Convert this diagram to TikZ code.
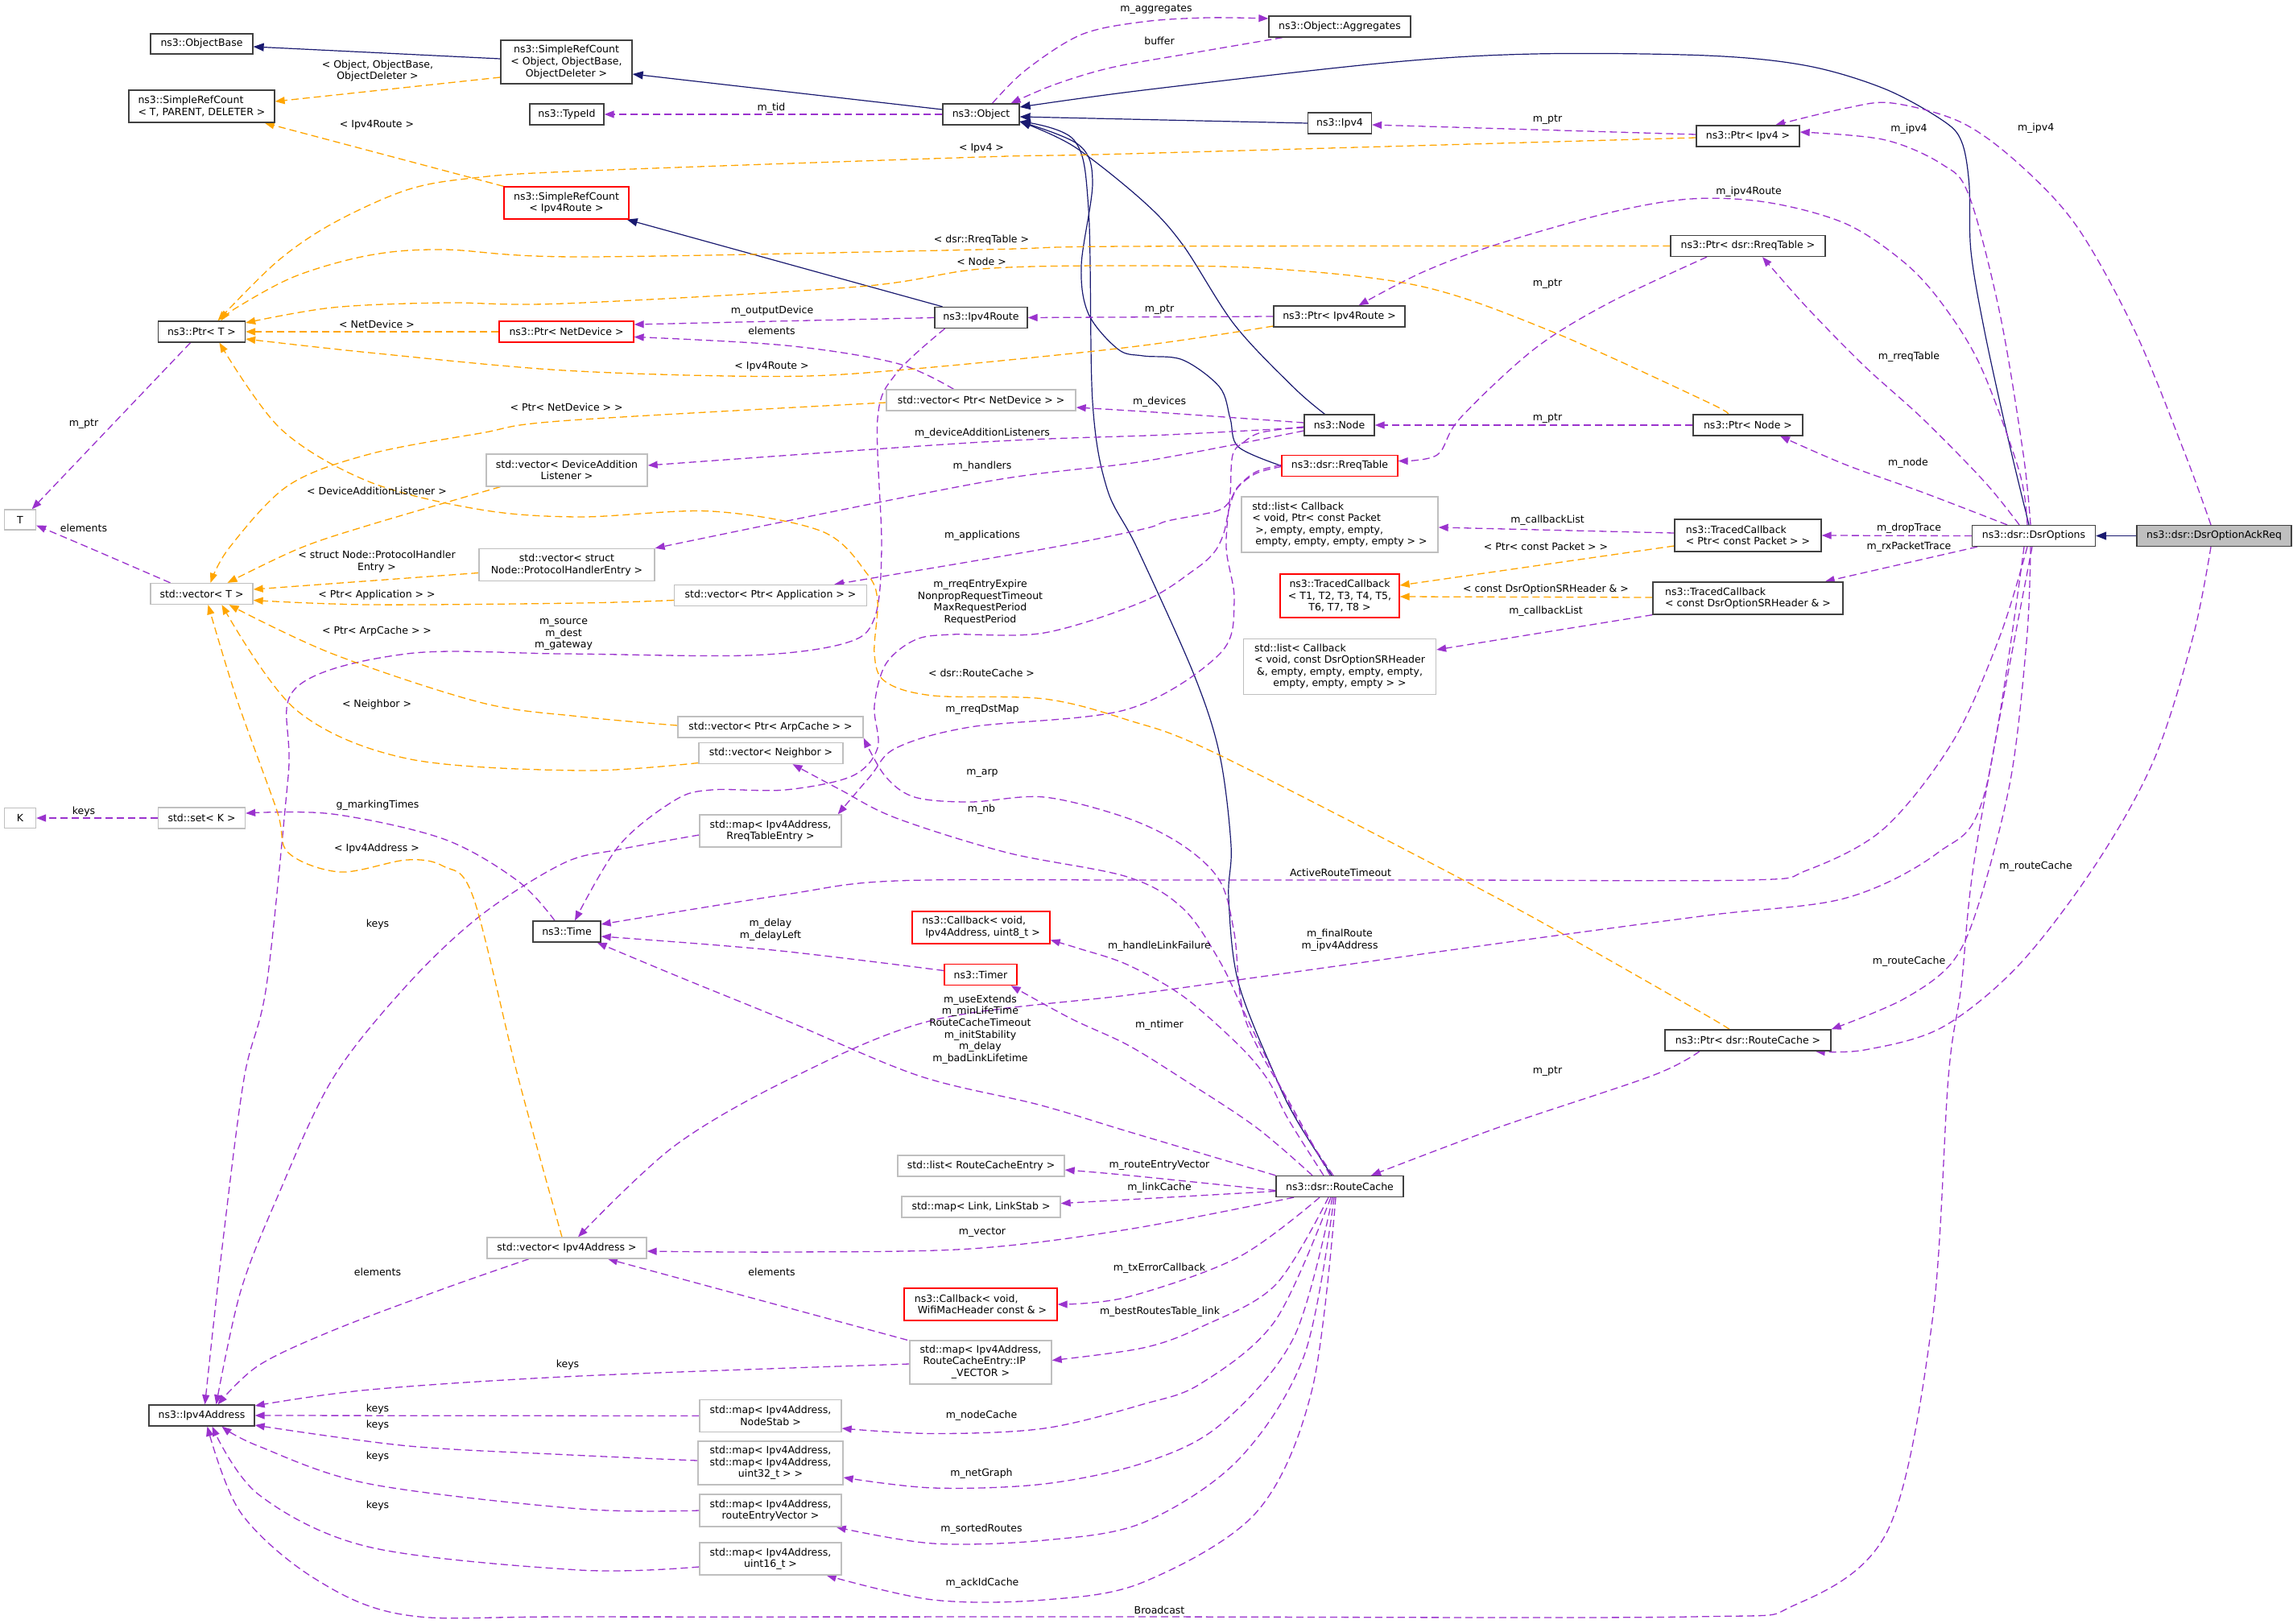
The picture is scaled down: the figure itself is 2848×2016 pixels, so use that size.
\documentclass[tikz,border=0pt]{standalone}
\usepackage{fontspec}
\setmainfont{DejaVu Sans}
\usetikzlibrary{arrows.meta}
\definecolor{usec}{HTML}{9A32CD}
\definecolor{tplc}{HTML}{FFA500}
\definecolor{inhc}{HTML}{191970}
\definecolor{grayb}{HTML}{BFBFBF}
\definecolor{blkb}{HTML}{404040}
\newcommand{\dxf}{\fontsize{12.5}{14.6}\selectfont}
\newcommand{\lsp}{\hspace*{4pt}}
\pgfdeclarelayer{bg}
\pgfsetlayers{bg,main}
\tikzset{
  box/.style={draw, line width=1.3pt, font=\dxf, inner xsep=3pt, inner ysep=1pt, align=center, fill=white},
  blk/.style={box, draw=blkb},
  gry/.style={box, draw=grayb},
  redb/.style={box, draw=red},
  cur/.style={box, draw=blkb, fill=grayb},
  lbl/.style={font=\dxf, inner sep=0pt, align=center},
  use/.style={draw=usec, line width=1.3pt, dash pattern=on 9pt off 5pt, -{Triangle[length=12pt,width=9pt]}},
  tpl/.style={draw=tplc, line width=1.3pt, dash pattern=on 9pt off 5pt, -{Triangle[length=12pt,width=9pt]}},
  inh/.style={draw=inhc, line width=1.2pt, -{Triangle[length=13pt,width=10pt]}},
  sm/.style={smooth, tension=0.55}
}
\begin{document}
\begin{tikzpicture}[x=1pt,y=-1pt]
\useasboundingbox (0,0) rectangle (2848,2016);
% ---------------- nodes ----------------
\node[blk,minimum width=127pt,minimum height=25pt] (obase) at (250.5,54.5) {ns3::ObjectBase};
\node[blk,minimum width=181pt,minimum height=40pt,align=left] (srcT) at (250.5,132) {ns3::SimpleRefCount\\< T, PARENT, DELETER >};
\node[blk,minimum width=163pt,minimum height=54pt] (srcObj) at (703.5,77) {ns3::SimpleRefCount\\< Object, ObjectBase,\\ObjectDeleter >};
\node[blk,minimum width=92pt,minimum height=26pt] (typeid) at (704,142) {ns3::TypeId};
\node[redb,minimum width=155pt,minimum height=40pt] (srcRoute) at (703.5,252) {ns3::SimpleRefCount\\< Ipv4Route >};
\node[blk,minimum width=108pt,minimum height=26pt] (ptrT) at (250.5,412) {ns3::Ptr< T >};
\node[redb,minimum width=167pt,minimum height=26pt] (ptrNet) at (703.5,412) {ns3::Ptr< NetDevice >};
\node[gry,minimum width=39pt,minimum height=25pt] (T) at (25,645.5) {T};
\node[gry,minimum width=200pt,minimum height=40pt] (vecDAL) at (704,584) {std::vector< DeviceAddition\\Listener >};
\node[blk,minimum width=95pt,minimum height=26pt] (object) at (1218.5,142) {ns3::Object};
\node[blk,minimum width=115pt,minimum height=26pt] (ipv4route) at (1218.5,394.5) {ns3::Ipv4Route};
\node[gry,minimum width=235pt,minimum height=26pt] (vecNet) at (1218.5,497) {std::vector< Ptr< NetDevice > >};
\node[blk,minimum width=176pt,minimum height=26pt] (aggr) at (1664,33) {ns3::Object::Aggregates};
\node[blk,minimum width=79pt,minimum height=26pt] (ipv4) at (1664,153) {ns3::Ipv4};
\node[blk,minimum width=163pt,minimum height=26pt] (ptrRoute) at (1663.5,393) {ns3::Ptr< Ipv4Route >};
\node[blk,minimum width=87pt,minimum height=26pt] (node) at (1663.5,528) {ns3::Node};
\node[redb,minimum width=144pt,minimum height=26pt] (rreq) at (1664,578.5) {ns3::dsr::RreqTable};
\node[gry,minimum width=244pt,minimum height=69pt,align=left] (listPkt) at (1664,651.5) {std::list< Callback\\< void, Ptr< const Packet\\\lsp>, empty, empty, empty,\\\lsp empty, empty, empty, empty > >};
\node[blk,minimum width=192pt,minimum height=26pt] (ptrRreq) at (2171,305.5) {ns3::Ptr< dsr::RreqTable >};
\node[blk,minimum width=136pt,minimum height=26pt] (ptrNode) at (2171,528) {ns3::Ptr< Node >};
\node[blk,minimum width=128pt,minimum height=26pt] (ptrIpv4) at (2171,169) {ns3::Ptr< Ipv4 >};
\node[blk,minimum width=182pt,minimum height=40pt,align=left] (tcPkt) at (2171,665) {ns3::TracedCallback\\< Ptr< const Packet > >};
\node[blk,minimum width=153pt,minimum height=26pt] (dsropt) at (2526,665.5) {ns3::dsr::DsrOptions};
\node[cur,minimum width=192pt,minimum height=26pt] (ackreq) at (2750,665.5) {ns3::dsr::DsrOptionAckReq};
\node[redb,minimum width=148pt,minimum height=54pt] (tcT) at (1664,740) {ns3::TracedCallback\\< T1, T2, T3, T4, T5,\\T6, T7, T8 >};
\node[gry,minimum width=239pt,minimum height=69pt] (listSR) at (1664,828) {\begin{tabular}{@{}l@{}}std::list< Callback\\< void, const DsrOptionSRHeader\\\multicolumn{1}{@{}c@{}}{\&, empty, empty, empty, empty,}\\\multicolumn{1}{@{}c@{}}{empty, empty, empty > >}\end{tabular}};
\node[blk,minimum width=236pt,minimum height=40pt,align=left] (tcSR) at (2171,743) {ns3::TracedCallback\\< const DsrOptionSRHeader \& >};
\node[blk,minimum width=206pt,minimum height=26pt] (ptrRC) at (2171,1292) {ns3::Ptr< dsr::RouteCache >};
\node[gry,minimum width=127pt,minimum height=26pt] (vecT) at (250.5,737.5) {std::vector< T >};
\node[gry,minimum width=218pt,minimum height=40pt] (vecPHE) at (704,701.5) {std::vector< struct\\Node::ProtocolHandlerEntry >};
\node[gry,minimum width=39pt,minimum height=25pt] (K) at (25,1016) {K};
\node[gry,minimum width=108pt,minimum height=26pt] (setK) at (250.5,1016) {std::set< K >};
\node[blk,minimum width=84pt,minimum height=26pt] (time) at (704,1157) {ns3::Time};
\node[gry,minimum width=239pt,minimum height=26pt] (vecApp) at (957,739.5) {std::vector< Ptr< Application > >};
\node[gry,minimum width=230pt,minimum height=26pt] (vecArp) at (957,903) {std::vector< Ptr< ArpCache > >};
\node[gry,minimum width=179pt,minimum height=26pt] (vecNb) at (957.5,935.5) {std::vector< Neighbor >};
\node[gry,minimum width=176pt,minimum height=40pt] (mapRreq) at (957,1032) {std::map< Ipv4Address,\\RreqTableEntry >};
\node[redb,minimum width=171pt,minimum height=40pt,align=left] (cbLink) at (1218.5,1152) {ns3::Callback< void,\\\lsp Ipv4Address, uint8\_t >};
\node[redb,minimum width=90pt,minimum height=26pt] (timer) at (1218,1210.5) {ns3::Timer};
\node[gry,minimum width=198pt,minimum height=26pt] (vecAddr) at (704,1550) {std::vector< Ipv4Address >};
\node[gry,minimum width=207pt,minimum height=26pt] (listRCE) at (1218.5,1448) {std::list< RouteCacheEntry >};
\node[gry,minimum width=197pt,minimum height=26pt] (mapLink) at (1218.5,1499) {std::map< Link, LinkStab >};
\node[redb,minimum width=190pt,minimum height=40pt,align=left] (cbWifi) at (1218,1620) {ns3::Callback< void,\\\lsp WifiMacHeader const \& >};
\node[gry,minimum width=176pt,minimum height=54pt] (mapIPV) at (1218,1692) {\begin{tabular}{@{}l@{}}std::map< Ipv4Address,\\\lsp RouteCacheEntry::IP\\\multicolumn{1}{@{}c@{}}{\_VECTOR >}\end{tabular}};
\node[gry,minimum width=176pt,minimum height=40pt] (mapNS) at (957,1758.5) {std::map< Ipv4Address,\\NodeStab >};
\node[gry,minimum width=180pt,minimum height=54pt] (mapNG) at (957,1817) {std::map< Ipv4Address,\\std::map< Ipv4Address,\\uint32\_t > >};
\node[gry,minimum width=176pt,minimum height=40pt] (mapRE) at (957,1876) {std::map< Ipv4Address,\\routeEntryVector >};
\node[gry,minimum width=176pt,minimum height=40pt] (mapAck) at (957,1936) {std::map< Ipv4Address,\\uint16\_t >};
\node[blk,minimum width=131pt,minimum height=26pt] (ipv4addr) at (250.5,1758) {ns3::Ipv4Address};
\node[blk,minimum width=158pt,minimum height=26pt] (rc) at (1664,1473.5) {ns3::dsr::RouteCache};
% ---------------- connectors ----------------
\begin{pgfonlayer}{bg}
% inheritance
\draw[inh] ([yshift=4pt]srcObj.west) -- ([yshift=-3.5pt]obase.east);
\draw[inh] ([yshift=6pt]object.west) -- ([yshift=-15pt]srcObj.east);
\draw[inh] (ipv4.west) -- ([yshift=-3pt]object.east);
\draw[inh] plot[sm] coordinates {([xshift=-6pt]dsropt.north) (2493.6,542.5) (2465,412) (2448,312.5) (2445.6,227) (2436,175) (2412,149) (2340,110) (2244,81.6) (2120,69) (1905,67) (1721,78) (1420,112) ([yshift=9pt]object.east)};
\draw[inh] ([xshift=-48pt]ipv4route.north) -- ([xshift=-3pt]srcRoute.south east);
\draw[inh] plot[sm] coordinates {([xshift=-18pt]node.north) (1606.6,481) (1533,403) (1469,304) (1420,250) (1334,182) ([yshift=-9pt]object.east)};
\draw[inh] plot[sm] coordinates {(rreq.west) (1538,555) (1528,520) (1515,481) (1469,447) (1420,442) (1389,434) (1352,390) (1343,330) (1357,226) (1340,180) ([yshift=-9pt]object.east)};
\draw[inh] plot[sm] coordinates {([xshift=-10pt]rc.north) (1611,1392) (1584,1337) (1538,1220) (1526,1115) (1529,1050) (1515,938) (1483,838) (1412,680) (1375,607) (1357,499) (1352,260) (1334,174) ([yshift=-9pt]object.east)};
\draw[inh] (ackreq.west) -- (dsropt.east);
% usage
\draw[use] (object.west) -- (typeid.east);
\draw[use] plot[sm] coordinates {([xshift=14pt]object.north) (1274,87) (1343,43) (1420,27) (1500,22) ([yshift=10pt]aggr.west)};
\draw[use] plot[sm] coordinates {([xshift=-71pt]aggr.south) (1480,66) (1380,84) (1310,105) ([xshift=37pt]object.north)};
\draw[use] ([yshift=2pt]ptrIpv4.west) -- ([yshift=-2pt]ipv4.east);
\draw[use] plot[sm] coordinates {([xshift=-4pt]dsropt.north) (2513,564) (2484,390) (2445.6,243) (2412,204) (2340,173.5) ([yshift=5pt]ptrIpv4.east)};
\draw[use] plot[sm] coordinates {([xshift=-4pt]ackreq.north) (2714,564) (2652,412) (2580,282) (2508,204) (2436,152) (2350,128) (2292,134.5) ([xshift=34pt]ptrIpv4.north)};
\draw[use] plot[sm] coordinates {([xshift=-8pt]dsropt.north) (2508,585.5) (2460,455) (2412,377) (2364,325) (2292,277.6) (2196,251.5) (2100,247) (1997,264.6) (1859,303.6) (1767,338) ([xshift=24pt]ptrRoute.north)};
\draw[use] plot[sm] coordinates {([xshift=-18pt]dsropt.north) (2465,598.5) (2388,520) (2316,455) (2244,381.6) ([xshift=18pt]ptrRreq.south)};
\draw[use] plot[sm] coordinates {([xshift=-33pt]dsropt.north) (2388,611.5) (2292,577) ([xshift=40pt]ptrNode.south)};
\draw[use] (dsropt.west) -- (tcPkt.east);
\draw[use] ([xshift=7pt]dsropt.south west) -- ([xshift=-23pt]tcSR.north east);
\draw[use] plot[sm] coordinates {([xshift=-4pt]dsropt.south) (2517.6,790) (2498,963.6) (2460,1115) (2426,1193.5) (2364,1241) (ptrRC.north east)};
\draw[use] plot[sm] coordinates {([xshift=-4pt]ackreq.south) (2724,790) (2676,942) (2604,1072) (2508,1198) (2412,1276) (2316,1304) ([xshift=-20pt]ptrRC.south east)};
\draw[use] plot[sm] coordinates {([xshift=-8pt]dsropt.south) (2484,790) (2426,920) (2340,1029) (2244,1081) (2172,1093) (1800,1093) (1420,1093) (1113,1094) (975.5,1111) ([yshift=9pt]time.east)};
\draw[use] plot[sm] coordinates {([xshift=-12pt]dsropt.south) (2465,985) (2407,1059) (2292,1115.5) (2120,1137) (1859,1172) (1538,1217) (1400,1236) (1159,1267) (985,1338) (838,1423) ([xshift=14pt]vecAddr.north)};
\draw[use] plot[sm] coordinates {([xshift=-2pt]dsropt.south) (2455,1050) (2436,1224) (2420,1337) (2400,1640) (2345,1900) (2230,1993) (2100,2008) (1400,2008) (720,2008) (505,2006) (390,1960) (298.5,1878) ([xshift=7pt]ipv4addr.south)};
\draw[use] (ipv4route.west) -- ([yshift=9pt]ptrNet.east);
\draw[use] plot[sm] coordinates {([xshift=-45pt]ipv4route.south) (1113,464) (1090,520) (1095,680) (1086,768) (1049,799) (930,814) (700,812) (505,812) (367,855) (358,964) (331,1224) (303,1340) (275.5,1553) ([xshift=4pt]ipv4addr.north)};
\draw[use] (ptrRoute.west) -- (ipv4route.east);
\draw[use] (ptrNode.west) -- (node.east);
\draw[use] plot[sm] coordinates {([xshift=-51pt]ptrRreq.south) (1997,377) (1905,434) (1813,520) (1785,565) ([yshift=6pt]rreq.east)};
\draw[use] plot[sm] coordinates {([xshift=-60pt]ptrRC.south) (2052,1336) (1859,1401) ([xshift=39pt]rc.north)};
\draw[use] plot[sm] coordinates {([yshift=3pt]node.west) (1450,513) ([yshift=-9pt]vecNet.east)};
\draw[use] plot[sm] coordinates {([yshift=-3pt]node.west) (1450,540) (1220,549) ([yshift=6pt]vecDAL.east)};
\draw[use] plot[sm] coordinates {([yshift=-7pt]node.west) (1420,573) (1220,599) (vecPHE.north east)};
\draw[use] plot[sm] coordinates {([yshift=1pt]rreq.west) (1560,586) (1537,605) (1527,623) (1510,635) (1450,647) (1420,657) (1297,681.7) ([xshift=-41pt]vecApp.north east)};
\draw[use] plot[sm] coordinates {([yshift=-1pt]rreq.west) (1560,588) (1537,606) (1527,630) (1520,662) (1508,686) (1483,708) (1420,747) (1297,786) (1182,788) (1136,795) (1100,825) (1086,877) (1090,929) (1058,964) (975.5,981) (884,981) (838,994) (769,1050) ([xshift=10pt]time.north)};
\draw[use] plot[sm] coordinates {([yshift=-2pt]node.west) (1567,537) (1545,549) (1531,565) (1528,613) (1523,680) (1533,747) (1515,812) (1400,881) (1205,903) (1113,929) (1081,964) ([xshift=-5pt]mapRreq.north east)};
\draw[use] ([yshift=3pt]tcPkt.west) -- ([yshift=-3.5pt]listPkt.east);
\draw[use] ([xshift=0pt]tcSR.south west) -- ([yshift=21pt]listSR.east);
\draw[use] ([xshift=-14pt]ptrT.south) -- ([xshift=-5.5pt]T.north east);
\draw[use] plot[sm] coordinates {([xshift=-39pt]vecT.north) (110,680) ([yshift=-7pt]T.east)};
\draw[use] (setK.west) -- (K.east);
\draw[use] plot[sm] coordinates {([xshift=-34pt]vecNet.north) (1113,451) (975.5,429) ([yshift=-6.5pt]ptrNet.east)};
\draw[use] plot[sm] coordinates {([xshift=-15pt]time.north) (643,1094) (551,1042) (413,1011) ([yshift=6pt]setK.east)};
\draw[use] plot[sm] coordinates {([yshift=-5pt]mapRreq.west) (769,1055) (700,1072) (597,1137) (505,1224) (413,1340) (344,1488) (298.5,1605) ([xshift=18pt]ipv4addr.north)};
\draw[use] plot[sm] coordinates {([yshift=5pt]timer.west) (960,1180) ([yshift=-6pt]time.east)};
\draw[use] plot[sm] coordinates {(rc.north west) (1400,1405) (1290,1372) (1141,1336) (975.5,1267) (838,1211) ([xshift=-5pt]time.south east)};
\draw[use] plot[sm] coordinates {([xshift=-34pt]rc.north) (1560,1400) (1469,1340) (1400,1297.5) (1330,1265) ([xshift=-8pt]timer.south east)};
\draw[use] plot[sm] coordinates {([xshift=-20pt]rc.north) (1600,1390) (1574,1340) (1538,1297.5) (1469,1237) (1400,1198) (1340,1178) ([yshift=-15.5pt]cbLink.east)};
\draw[use] plot[sm] coordinates {([xshift=-12pt]rc.north) (1607,1379) (1547,1267) (1533,1159) (1515,1094) (1469,1050) (1400,1016) (1297,990) (1205,996) (1136,990) (1099.5,964) (vecArp.south east)};
\draw[use] plot[sm] coordinates {([xshift=-8pt]rc.north) (1611,1390) (1550,1267) (1515,1194) (1469,1128) (1400,1089) (1251,1059) (1113,1016) (1044,981) ([xshift=27pt]vecNb.south)};
\draw[use] plot[sm] coordinates {([yshift=-5pt]rc.west) (1400,1459.6) ([yshift=-5pt]listRCE.east)};
\draw[use] ([yshift=-6pt]rc.west) -- ([yshift=4.4pt]mapLink.east);
\draw[use] plot[sm] coordinates {([xshift=-57pt]rc.south) (1400,1527) (1205,1551) (975.5,1555) ([yshift=-4pt]vecAddr.east)};
\draw[use] plot[sm] coordinates {([xshift=-25pt]rc.south) (1538,1561.5) (1400,1611) (cbWifi.east)};
\draw[use] plot[sm] coordinates {([xshift=-14pt]rc.south) (1584,1596) (1492,1648) (1420,1674) ([yshift=2.5pt]mapIPV.east)};
\draw[use] plot[sm] coordinates {([xshift=-11pt]rc.south) (1584,1640) (1492,1718) (1420,1744) (1297,1774) (1159,1780.5) ([yshift=-15.5pt]mapNS.east)};
\draw[use] plot[sm] coordinates {([xshift=-9pt]rc.south) (1607,1661) (1515,1770) (1420,1817) (1297,1843) (1159,1848) ([yshift=-18pt]mapNG.east)};
\draw[use] plot[sm] coordinates {([xshift=-7pt]rc.south) (1620,1683) (1538,1813) (1420,1891) (1297,1913) (1159,1917) ([xshift=-7pt]mapRE.south east)};
\draw[use] plot[sm] coordinates {([xshift=-5pt]rc.south) (1629.6,1726) (1560.7,1878) (1420,1965) (1297,1987) (1159,1987) ([xshift=-19pt]mapAck.south east)};
\draw[use] plot[sm] coordinates {([xshift=-47pt]vecAddr.south) (551,1600.6) (413,1652.6) (321,1696) ([xshift=20pt]ipv4addr.north)};
\draw[use] ([xshift=-91pt]mapIPV.north) -- ([xshift=51pt]vecAddr.south);
\draw[use] plot[sm] coordinates {([yshift=-2pt]mapIPV.west) (720,1709) (459,1726) ([yshift=12pt]ipv4addr.east)};
\draw[use] (mapNS.west) -- (ipv4addr.east);
\draw[use] plot[sm] coordinates {([yshift=3pt]mapNG.west) (700,1806.6) (505,1795.7) ([yshift=-12pt]ipv4addr.east)};
\draw[use] plot[sm] coordinates {(mapRE.west) (720,1874) (459,1843) (321,1796) ([xshift=25pt]ipv4addr.south)};
\draw[use] plot[sm] coordinates {([yshift=-10pt]mapAck.west) (720,1950) (459,1921.5) (321,1856) ([xshift=13pt]ipv4addr.south)};
% template instances
\draw[tpl] ([yshift=-19pt]srcObj.west) -- ([yshift=6pt]srcT.east);
\draw[tpl] (srcRoute.north west) -- ([xshift=-13pt]srcT.south east);
\draw[tpl] plot[sm] coordinates {([yshift=-2pt]ptrIpv4.west) (1400,191) (1219,195) (720,212.5) (588,221) (505,236) (413,277.6) (344,325) ([xshift=20pt]ptrT.north)};
\draw[tpl] plot[sm] coordinates {(ptrRreq.west) (1400,306) (1219,310) (720,319) (551,310) (459,317) (367,343) (294,382) ([xshift=24pt]ptrT.north)};
\draw[tpl] plot[sm] coordinates {([xshift=-25pt]ptrNode.north) (2120,499) (1928,412) (1767,356) (1584,334) (1400,330) (1219,334) (1067,356) (700,377) (551,376) (413,382) ([yshift=11pt]ptrT.east)};
\draw[tpl] (ptrNet.west) -- (ptrT.east);
\draw[tpl] plot[sm] coordinates {([yshift=-12pt]ptrRoute.west) (1400,431.5) (1113,460) (957,467.5) (700,460) (459,438) ([yshift=-9pt]ptrT.east)};
\draw[tpl] plot[sm] coordinates {([yshift=-3pt]vecNet.west) (700,522.6) (597,538) (459,564) (358,603) (285,680) ([xshift=11pt]vecT.north)};
\draw[tpl] plot[sm] coordinates {([xshift=18pt]vecDAL.south west) (459,652) (372,681) ([xshift=32pt]vecT.north)};
\draw[tpl] plot[sm] coordinates {([xshift=-23pt]ptrRC.north) (2100,1250) (1859,1115) (1515,938) (1400,894) (1297,868) (1159,864) (1099.5,846.5) (1086,812) (1090,747) (1076.5,712) (1021,660) (884,635) (720,642) (597,633) (459,598.5) (349,533) ([xshift=22pt]ptrT.south)};
\draw[tpl] ([yshift=-10pt]vecPHE.west) -- ([yshift=5.5pt]vecT.east);
\draw[tpl] plot[sm] coordinates {([yshift=-6pt]vecApp.west) (720,749) (459,751) ([yshift=-8pt]vecT.east)};
\draw[tpl] plot[sm] coordinates {([yshift=2pt]vecArp.west) (720,890) (597,872.5) (413,812) ([xshift=34pt]vecT.south)};
\draw[tpl] plot[sm] coordinates {([yshift=-12pt]vecNb.west) (720,957) (505,942) (367,881) ([xshift=25pt]vecT.south)};
\draw[tpl] plot[sm] coordinates {([xshift=-6pt]vecAddr.north) (643,1336) (588,1115) (551,1076) (505,1068) (422.5,1083) (358,1059) (344,1007) (294,868) ([xshift=8pt]vecT.south)};
\draw[tpl] ([yshift=-13pt]tcPkt.west) -- ([yshift=13pt]tcT.east);
\draw[tpl] ([yshift=1pt]tcSR.west) -- ([yshift=-1pt]tcT.east);
\end{pgfonlayer}
% ---------------- labels ----------------
\node[lbl] (l01) at (104,526.5) {m\_ptr};
\node[lbl] (l02) at (104,655.7) {elements};
\node[lbl] (l03) at (104,1008) {keys};
\node[lbl] (l04) at (469,88) {< Object, ObjectBase,\\ObjectDeleter >};
\node[lbl] (l05) at (468,155) {< Ipv4Route >};
\node[lbl] (l06) at (468,403) {< NetDevice >};
\node[lbl] (l07) at (468,610) {< DeviceAdditionListener >};
\node[lbl] (l08) at (468,697.5) {< struct Node::ProtocolHandler\\Entry >};
\node[lbl] (l09) at (468,739) {< Ptr< Application > >};
\node[lbl] (l10) at (468,783.6) {< Ptr< ArpCache > >};
\node[lbl] (l11) at (468,874.7) {< Neighbor >};
\node[lbl] (l12) at (469,1000.5) {g\_markingTimes};
\node[lbl] (l13) at (468,1054) {< Ipv4Address >};
\node[lbl] (l14) at (469,1148) {keys};
\node[lbl] (l15) at (469,1580) {elements};
\node[lbl] (l16) at (469,1750) {keys};
\node[lbl] (l17) at (469,1770) {keys};
\node[lbl] (l18) at (469,1808.7) {keys};
\node[lbl] (l19) at (469,1870) {keys};
\node[lbl] (l20) at (705,1695) {keys};
\node[lbl] (l21) at (958,134) {m\_tid};
\node[lbl] (l22) at (1219,184) {< Ipv4 >};
\node[lbl] (l23) at (1219,298.4) {< dsr::RreqTable >};
\node[lbl] (l24) at (1219,324.4) {< Node >};
\node[lbl] (l25) at (959,386) {m\_outputDevice};
\node[lbl] (l26) at (958.5,411) {elements};
\node[lbl] (l27) at (958.5,455) {< Ipv4Route >};
\node[lbl] (l28) at (703.6,506) {< Ptr< NetDevice > >};
\node[lbl] (l29) at (1220,538) {m\_deviceAdditionListeners};
\node[lbl] (l30) at (1220,579) {m\_handlers};
\node[lbl] (l31) at (1440,499) {m\_devices};
\node[lbl] (l32) at (1220,665) {m\_applications};
\node[lbl] (l33) at (700,788) {m\_source\\m\_dest\\m\_gateway};
\node[lbl] (l34) at (1217.5,748) {m\_rreqEntryExpire\\NonpropRequestTimeout\\MaxRequestPeriod\\RequestPeriod};
\node[lbl] (l35) at (1219,835.6) {< dsr::RouteCache >};
\node[lbl] (l36) at (1220,881) {m\_rreqDstMap};
\node[lbl] (l37) at (1220,960.6) {m\_arp};
\node[lbl] (l38) at (1219,1004.8) {m\_nb};
\node[lbl] (l39) at (957,1155) {m\_delay\\m\_delayLeft};
\node[lbl] (l40) at (1217.5,1278.5) {m\_useExtends\\m\_minLifeTime\\RouteCacheTimeout\\m\_initStability\\m\_delay\\m\_badLinkLifetime};
\node[lbl] (l41) at (958.5,1580) {elements};
\node[lbl] (l42) at (1220,1530.7) {m\_vector};
\node[lbl] (l43) at (1219,1758) {m\_nodeCache};
\node[lbl] (l44) at (1219,1830.4) {m\_netGraph};
\node[lbl] (l45) at (1219,1899.4) {m\_sortedRoutes};
\node[lbl] (l46) at (1220,1966) {m\_ackIdCache};
\node[lbl] (l47) at (1436,12) {m\_aggregates};
\node[lbl] (l48) at (1440,51) {buffer};
\node[lbl] (l49) at (1440,385) {m\_ptr};
\node[lbl] (l50) at (1922,149) {m\_ptr};
\node[lbl] (l51) at (1922,352.6) {m\_ptr};
\node[lbl] (l52) at (1922,519.6) {m\_ptr};
\node[lbl] (l53) at (1922,646) {m\_callbackList};
\node[lbl] (l54) at (1920,679) {< Ptr< const Packet > >};
\node[lbl] (l55) at (1920,732.4) {< const DsrOptionSRHeader \& >};
\node[lbl] (l56) at (1920,759) {m\_callbackList};
\node[lbl] (l57) at (1665,1084) {ActiveRouteTimeout};
\node[lbl] (l58) at (1440,1175.6) {m\_handleLinkFailure};
\node[lbl] (l59) at (1664,1167.5) {m\_finalRoute\\m\_ipv4Address};
\node[lbl] (l60) at (1440,1272.8) {m\_ntimer};
\node[lbl] (l61) at (1922,1331) {m\_ptr};
\node[lbl] (l62) at (1440,1447.5) {m\_routeEntryVector};
\node[lbl] (l63) at (1440,1475) {m\_linkCache};
\node[lbl] (l64) at (1440,1575) {m\_txErrorCallback};
\node[lbl] (l65) at (1440.5,1629) {m\_bestRoutesTable\_link};
\node[lbl] (l66) at (1440,1999.6) {Broadcast};
\node[lbl] (l67) at (2371,160) {m\_ipv4};
\node[lbl] (l68) at (2528.6,159) {m\_ipv4};
\node[lbl] (l69) at (2172,238.5) {m\_ipv4Route};
\node[lbl] (l70) at (2371,443) {m\_rreqTable};
\node[lbl] (l71) at (2370,575.5) {m\_node};
\node[lbl] (l72) at (2371,656) {m\_dropTrace};
\node[lbl] (l73) at (2371,679.5) {m\_rxPacketTrace};
\node[lbl] (l74) at (2371,1194) {m\_routeCache};
\node[lbl] (l75) at (2528.6,1076.6) {m\_routeCache};
\end{tikzpicture}
\end{document}
